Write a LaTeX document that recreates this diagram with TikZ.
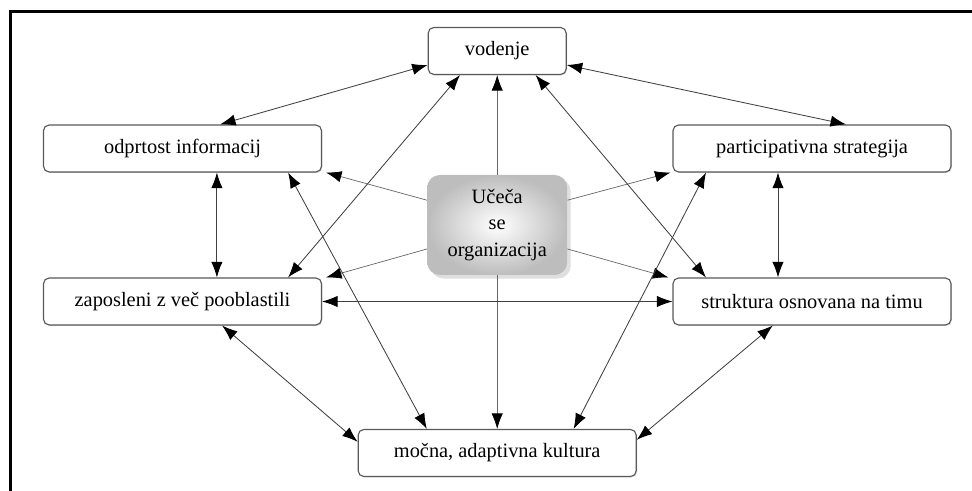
\documentclass[tikz,border=0pt]{standalone}
\usepackage{fontspec}
\setmainfont{Liberation Serif}
\usetikzlibrary{arrows.meta,shadows,positioning}

\tikzset{
  box/.style={draw=black!65, line width=0.8pt, rounded corners=4pt, fill=white,
    minimum width=6.95cm, minimum height=1.175cm, inner sep=0pt,
    font=\fontsize{14.5}{17}\selectfont,
    drop shadow={shadow xshift=0.7pt, shadow yshift=-0.7pt, opacity=0.3}},
  hub/.style={rounded corners=9pt, inner color=white, outer color=black!26,
    minimum width=3.5cm, minimum height=2.5cm, inner sep=0pt, align=center,
    font=\fontsize{14.5}{19}\selectfont,
    drop shadow={shadow xshift=2.5pt, shadow yshift=-2.5pt, opacity=0.25}},
  link/.style={{Latex[length=11pt,width=8pt,color=black]}-{Latex[length=11pt,width=8pt,color=black]},
    draw=black!75, line width=0.6pt},
  spoke/.style={-{Latex[length=11pt,width=8pt,color=black]}, draw=black!60, line width=0.5pt},
}

\begin{document}
\begin{tikzpicture}
\useasboundingbox (0,0) rectangle (24.3,12.275);
% frame
\draw[line width=2.5pt] (0.2625,0) -- (0.2625,11.9875) -- (24.3,11.9875);

\node[box, minimum width=3.45cm] (vod) at (12.43,11.0) {vodenje};
\node[box] (odp) at (4.5625,8.5625) {odprtost informacij};
\node[box] (par) at (20.3,8.5625) {participativna strategija};
\node[box] (zap) at (4.5625,4.7375) {zaposleni z več pooblastili};
\node[box] (str) at (20.3,4.7375) {struktura osnovana na timu};
\node[box] (moc) at (12.43,0.95) {močna, adaptivna kultura};
\node[hub] (uco) at (12.43,6.65) {Učeča\\se\\organizacija};

% spokes out of the centre
\draw[spoke] (uco.north) -- (vod.south);
\draw[spoke] (uco.south) -- (moc.north);
\draw[spoke] ([yshift=0.62cm]uco.west) -- ([xshift=0.1cm]odp.south east);
\draw[spoke] ([yshift=-0.6cm]uco.west) -- ([xshift=0.1cm]zap.north east);
\draw[spoke] ([yshift=0.62cm]uco.east) -- ([xshift=-0.05cm]par.south west);
\draw[spoke] ([yshift=-0.6cm]uco.east) -- ([xshift=-0.1cm]str.north west);

% links between the boxes
\draw[link] ([yshift=-0.35cm]vod.west) -- ([xshift=0.94cm]odp.north);
\draw[link] ([yshift=-0.35cm]vod.east) -- ([xshift=0.85cm]par.north);
\draw[link] ([xshift=0.86cm]odp.south) -- ([xshift=0.86cm]zap.north);
\draw[link] ([xshift=-0.85cm]par.south) -- ([xshift=-0.85cm]str.north);
\draw[link] ([xshift=0.99cm]zap.south) -- ([yshift=0.28cm]moc.west);
\draw[link] ([xshift=-0.98cm]str.south) -- ([yshift=0.33cm]moc.east);
\draw[link] (zap.east) -- (str.west);
\draw[link] ([xshift=2.64cm]zap.north) -- ([xshift=-0.93cm]vod.south);
\draw[link] ([xshift=2.64cm]odp.south) -- ([xshift=-1.76cm]moc.north);
\draw[link] ([xshift=0.96cm]vod.south) -- ([xshift=-2.65cm]str.north);
\draw[link] ([xshift=-2.65cm]par.south) -- ([xshift=1.91cm]moc.north);
\end{tikzpicture}
\end{document}
